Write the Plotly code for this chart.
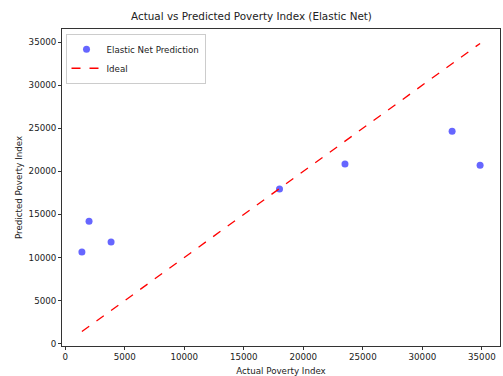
import plotly.graph_objects as go

# Actual vs predicted poverty index values
actual = [1400, 2000, 3850, 18000, 23500, 32500, 34850]
predicted = [10650, 14200, 11800, 17950, 20850, 24650, 20700]

x_ticks = [0, 5000, 10000, 15000, 20000, 25000, 30000, 35000]
y_ticks = [0, 5000, 10000, 15000, 20000, 25000, 30000, 35000]

lo, hi = min(actual), max(actual)
pad = (hi - lo) * 0.05

fig = go.Figure()
fig.add_trace(go.Scatter(
    x=actual, y=predicted, mode="markers", name="Elastic Net Prediction",
    marker=dict(color="blue", opacity=0.6, size=7, line=dict(width=0)),
))
fig.add_trace(go.Scatter(
    x=[lo, hi], y=[lo, hi], mode="lines", name="Ideal",
    line=dict(color="red", dash="dash", width=1.3),
))

axis_common = dict(
    showgrid=False, zeroline=False, showline=True, mirror=True,
    linecolor="#333", linewidth=1, ticks="outside", ticklen=3,
    tickcolor="#333", tickfont=dict(size=8.7, color="#222"),
)

fig.update_layout(
    width=503, height=376,
    margin=dict(l=62, r=3, t=29, b=30),
    paper_bgcolor="white", plot_bgcolor="white",
    font=dict(family="DejaVu Sans", color="#222"),
    title=dict(text="Actual vs Predicted Poverty Index (Elastic Net)",
               x=0.5, xanchor="center", y=0.965, yanchor="top",
               font=dict(size=10.4)),
    xaxis=dict(range=[lo - pad, hi + pad], tickvals=x_ticks,
               ticktext=[str(v) for v in x_ticks], automargin=False,
               title=dict(text="Actual Poverty Index", font=dict(size=8.7)),
               **axis_common),
    yaxis=dict(range=[lo - pad, hi + pad], tickvals=y_ticks,
               ticktext=[str(v) for v in y_ticks], automargin=True,
               title=dict(text="Predicted Poverty Index", font=dict(size=8.7), standoff=4),
               **axis_common),
    legend=dict(x=0.008, y=0.985, xanchor="left", yanchor="top",
                bgcolor="rgba(255,255,255,0.8)", bordercolor="#ccc", borderwidth=1,
                font=dict(size=8.7), tracegroupgap=0, itemwidth=30),
    showlegend=True,
)

fig.write_html("out.html")
